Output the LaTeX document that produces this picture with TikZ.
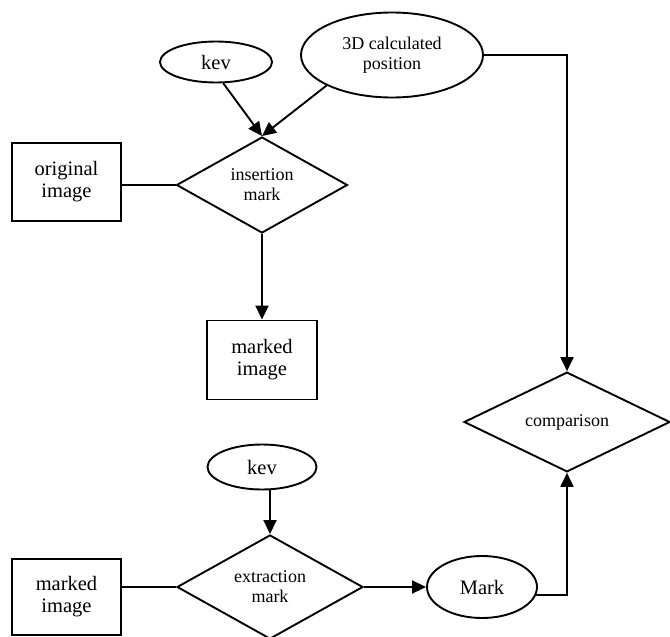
\documentclass[tikz,border=0pt]{standalone}
\usepackage{fontspec}
\setmainfont{Liberation Serif}
\usetikzlibrary{shapes.geometric,arrows.meta}
\tikzset{
  base/.style={draw, line width=1.9pt, inner sep=0pt, align=center},
  boxnode/.style={base, rectangle, font=\fontsize{20.5}{22}\selectfont},
  ellnode/.style={base, ellipse, font=\fontsize{20.5}{22}\selectfont},
  dianode/.style={base, diamond, font=\fontsize{18}{20}\selectfont},
  link/.style={line width=1.9pt},
  arr/.style={link, -{Triangle[length=14pt,width=13pt]}}
}
\begin{document}
\begin{tikzpicture}[x=1pt,y=-1pt]
\useasboundingbox (0,0) rectangle (670,637);
% top part
\node[ellnode, minimum width=112pt, minimum height=41pt] (kevA) at (216,62) {kev};
\node[ellnode, minimum width=182pt, minimum height=85pt, font=\fontsize{18}{20}\selectfont] (pos) at (392,55) {3D calculated\\position};
\node[dianode, minimum width=171pt, minimum height=96pt] (ins) at (262,185) {insertion\\mark};
\node[boxnode, minimum width=109pt, minimum height=78pt] (orig) at (66.5,182) {original\\image};
\node[boxnode, minimum width=110pt, minimum height=79pt] (mk1) at (262,360) {marked\\image};
\node[dianode, minimum width=206pt, minimum height=90pt] (cmp) at (567,422) {comparison};
% bottom part
\node[ellnode, minimum width=109pt, minimum height=45pt] (kevB) at (262,467) {kev};
\node[dianode, minimum width=186pt, minimum height=102pt] (ext) at (270,587) {extraction\\mark};
\node[boxnode, minimum width=109pt, minimum height=76pt] (mk2) at (66.5,597) {marked\\image};
\node[ellnode, minimum width=110pt, minimum height=62pt] (mark) at (482,587) {Mark};
% connectors
\draw[arr] (kevA.-71) -- (ins.north);
\draw[arr] (pos.-155) -- (ins.north);
\draw[link] (ins.west) -- (ins.west -| orig.east);
\draw[arr] (ins.south) -- (mk1.north);
\draw[arr] (pos.east) -| (cmp.north);
\draw[arr] (kevB.south -| ext.north) -- (ext.north);
\draw[link] (ext.west) -- (ext.west -| mk2.east);
\draw[arr] (ext.east) -- (mark.west);
\draw[arr] (mark.-8) -| (cmp.south);
\end{tikzpicture}
\end{document}
